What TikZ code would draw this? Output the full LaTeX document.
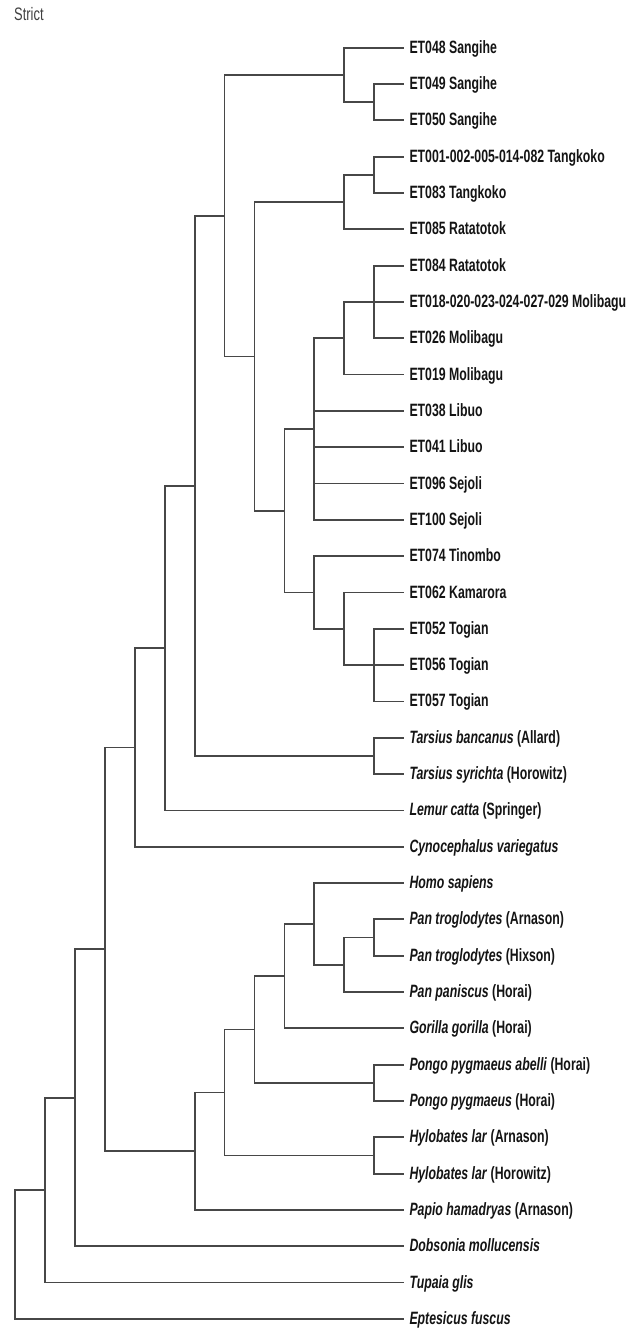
\documentclass[tikz,border=0pt]{standalone}
\usepackage{fontspec}
\setmainfont{Liberation Sans}
\usepackage{graphicx}
\newcommand\vstretch[1]{\scalebox{1}[1.45]{#1}}
\tikzset{
  branch/.style={line width=1.8pt, draw=black!72},
  leaf/.style={anchor=west, inner xsep=5.2pt, inner ysep=0pt, text height=14pt, text depth=3pt,
    font=\fontsize{12.3pt}{14pt}\selectfont\bfseries, text=black!92},
  title/.style={anchor=base west, inner sep=0pt, font=\fontsize{12.9pt}{14pt}\selectfont, text=black!75},
}
\newcommand\leafnode[2]{\node[leaf] (t#1) at (404.1,{47.7+36.32*#1}) {\vstretch{#2}};}
\begin{document}
\begin{tikzpicture}[x=1pt,y=-1pt]
\useasboundingbox[fill=white] (0,0) rectangle (630,1330);
\node[title] (strict) at (14,21) {\scalebox{1}[1.4]{Strict}};
% leaves
\leafnode{0}{ET048 Sangihe}
\leafnode{1}{ET049 Sangihe}
\leafnode{2}{ET050 Sangihe}
\leafnode{3}{ET001-002-005-014-082 Tangkoko}
\leafnode{4}{ET083 Tangkoko}
\leafnode{5}{ET085 Ratatotok}
\leafnode{6}{ET084 Ratatotok}
\leafnode{7}{ET018-020-023-024-027-029 Molibagu}
\leafnode{8}{ET026 Molibagu}
\leafnode{9}{ET019 Molibagu}
\leafnode{10}{ET038 Libuo}
\leafnode{11}{ET041 Libuo}
\leafnode{12}{ET096 Sejoli}
\leafnode{13}{ET100 Sejoli}
\leafnode{14}{ET074 Tinombo}
\leafnode{15}{ET062 Kamarora}
\leafnode{16}{ET052 Togian}
\leafnode{17}{ET056 Togian}
\leafnode{18}{ET057 Togian}
\leafnode{19}{\textit{Tarsius bancanus} (Allard)}
\leafnode{20}{\textit{Tarsius syrichta} (Horowitz)}
\leafnode{21}{\textit{Lemur catta} (Springer)}
\leafnode{22}{\textit{Cynocephalus variegatus}}
\leafnode{23}{\textit{Homo sapiens}}
\leafnode{24}{\textit{Pan troglodytes} (Arnason)}
\leafnode{25}{\textit{Pan troglodytes} (Hixson)}
\leafnode{26}{\textit{Pan paniscus} (Horai)}
\leafnode{27}{\textit{Gorilla gorilla} (Horai)}
\leafnode{28}{\textit{Pongo pygmaeus abelli} (Horai)}
\leafnode{29}{\textit{Pongo pygmaeus} (Horai)}
\leafnode{30}{\textit{Hylobates lar} (Arnason)}
\leafnode{31}{\textit{Hylobates lar} (Horowitz)}
\leafnode{32}{\textit{Papio hamadryas} (Arnason)}
\leafnode{33}{\textit{Dobsonia mollucensis}}
\leafnode{34}{\textit{Tupaia glis}}
\leafnode{35}{\textit{Eptesicus fuscus}}
% internal nodes
\coordinate (h1) at (374.2,102.15);
\coordinate (H)  at (344.2,74.93);
\coordinate (j1) at (374.2,174.85);
\coordinate (J)  at (344.2,202.08);
\coordinate (O)  at (374.2,301.9);
\coordinate (N)  at (344.2,338.25);
\coordinate (L)  at (314.3,429.08);
\coordinate (W)  at (374.2,665.1);
\coordinate (V)  at (344.2,628.8);
\coordinate (M)  at (314.3,592.5);
\coordinate (K)  at (284.4,510.79);
\coordinate (I)  at (254.4,356.44);
\coordinate (G)  at (224.5,215.68);
\coordinate (Ts) at (374.2,755.95);
\coordinate (F)  at (194.6,485.8);
\coordinate (E)  at (164.7,648.1);
\coordinate (D)  at (134.7,747.4);
\coordinate (Pn) at (374.2,937.55);
\coordinate (U)  at (344.2,964.78);
\coordinate (T)  at (314.3,923.94);
\coordinate (S)  at (284.4,976.12);
\coordinate (Pg) at (374.2,1082.85);
\coordinate (R)  at (254.4,1029.49);
\coordinate (Hy) at (374.2,1155.45);
\coordinate (Q)  at (224.5,1092.47);
\coordinate (P)  at (194.6,1151.19);
\coordinate (C)  at (104.8,949.3);
\coordinate (B)  at (74.9,1097.8);
\coordinate (A)  at (44.9,1190.2);
\coordinate (root) at (15,1254.55);
% branches
\begin{scope}[branch]
\draw (h1) |- (t1.west); \draw (h1) |- (t2.west);
\draw (H) |- (t0.west); \draw (H) |- (h1);
\draw (j1) |- (t3.west); \draw (j1) |- (t4.west);
\draw (J) |- (j1); \draw (J) |- (t5.west);
\draw (O) |- (t6.west); \draw (O) |- (t7.west); \draw (O) |- (t8.west);
\draw (N) |- (O); \draw (N) |- (t9.west);
\draw (L) |- (N); \draw (L) |- (t10.west); \draw (L) |- (t11.west); \draw (L) |- (t12.west); \draw (L) |- (t13.west);
\draw (W) |- (t16.west); \draw (W) |- (t17.west); \draw (W) |- (t18.west);
\draw (V) |- (t15.west); \draw (V) |- (W);
\draw (M) |- (t14.west); \draw (M) |- (V);
\draw (K) |- (L); \draw (K) |- (M);
\draw (I) |- (J); \draw (I) |- (K);
\draw (G) |- (H); \draw (G) |- (I);
\draw (Ts) |- (t19.west); \draw (Ts) |- (t20.west);
\draw (F) |- (G); \draw (F) |- (Ts);
\draw (E) |- (F); \draw (E) |- (t21.west);
\draw (D) |- (E); \draw (D) |- (t22.west);
\draw (Pn) |- (t24.west); \draw (Pn) |- (t25.west);
\draw (U) |- (Pn); \draw (U) |- (t26.west);
\draw (T) |- (t23.west); \draw (T) |- (U);
\draw (S) |- (T); \draw (S) |- (t27.west);
\draw (Pg) |- (t28.west); \draw (Pg) |- (t29.west);
\draw (R) |- (S); \draw (R) |- (Pg);
\draw (Hy) |- (t30.west); \draw (Hy) |- (t31.west);
\draw (Q) |- (R); \draw (Q) |- (Hy);
\draw (P) |- (Q); \draw (P) |- (t32.west);
\draw (C) |- (D); \draw (C) |- (P);
\draw (B) |- (C); \draw (B) |- (t33.west);
\draw (A) |- (B); \draw (A) |- (t34.west);
\draw (root) |- (A); \draw (root) |- (t35.west);
\end{scope}
\end{tikzpicture}
\end{document}
